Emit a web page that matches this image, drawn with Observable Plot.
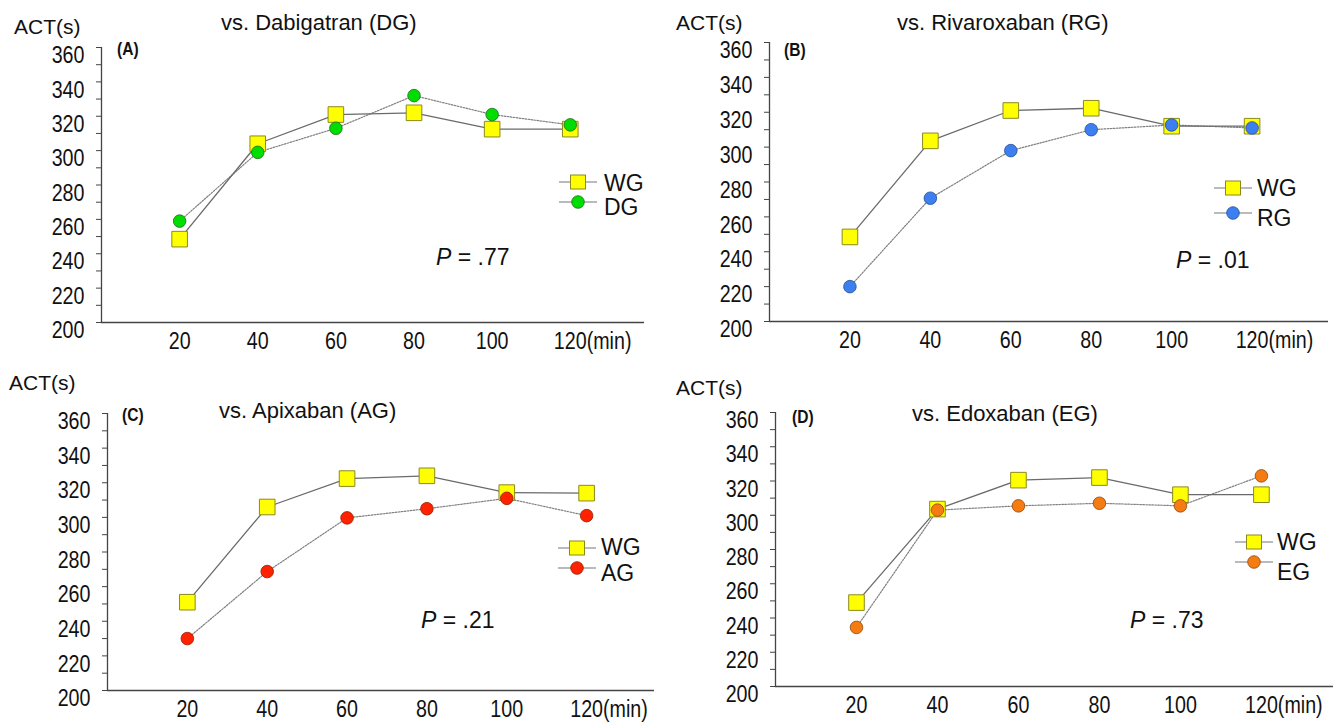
<!DOCTYPE html>
<html><head><meta charset="utf-8">
<script src="https://cdn.jsdelivr.net/npm/d3@7"></script>
<script src="https://cdn.jsdelivr.net/npm/@observablehq/plot@0.6"></script>
<style>
body{margin:0;background:#fff;}
#wrap{position:relative;width:1335px;height:723px;overflow:hidden;background:#fff;}
.panel{position:absolute;}
#overlay{position:absolute;left:0;top:0;pointer-events:none;}
</style></head><body><div id="wrap"></div>
<script>
// ---- data ----
const times = [20, 40, 60, 80, 100, 120];
const xTickLabels = ["20", "40", "60", "80", "100", "120"];
const yTicks = [200, 220, 240, 260, 280, 300, 320, 340, 360];
const wgA = [248.5, 304, 321, 322, 312.5, 312.5];
const dgA = [259, 299, 313, 332, 321, 315];
const wgB = [248.5, 303.6, 321, 322.3, 312, 312];
const rgB = [220, 270.7, 298, 310, 312.7, 311];
const wgC = [251, 306, 322.4, 324, 314.3, 314];
const agC = [230, 268.7, 299.7, 305, 311, 301];
const wgD = [249, 303.6, 320.5, 322, 312, 312];
const egD = [234.5, 303, 305.5, 307, 305.5, 323];
const panelLetters = ["(A)", "(B)", "(C)", "(D)"];
const titles = ["vs. Dabigatran (DG)", "vs. Rivaroxaban (RG)", "vs. Apixaban (AG)", "vs. Edoxaban (EG)"];
const groupNames = ["DG", "RG", "AG", "EG"];
const pValues = [".77", ".01", ".21", ".73"];
const compSeries = [dgA, rgB, agC, egD];
const wgSeries = [wgA, wgB, wgC, wgD];
const yLabel = "ACT(s)";
const xUnit = "(min)";

// ---- styles ----
const SANS = "'Liberation Sans',Arial,sans-serif";
const TICKFONT = 24, SQUEEZE = 0.82;
const compFill = ["#00dd00", "#3d7ff0", "#ff2200", "#f47c12"];
const compStroke = ["#1f6b1f", "#24508f", "#8f1e00", "#94480a"];
const wgFill = "#ffff00", wgStroke = "#8a8a20";

// ---- layout ----
const layout = [
  {left: 0,   top: 0,   w: 667, h: 362, ml: 101, mr: 23, mt: 47, mb: 40, xmax: 139,
   act: [14, 26], title: [221, 22], letter: [117, 48], leg: [578, 182, 202, 604, 183, 207], p: [436, 257]},
  {left: 667, top: 0,   w: 668, h: 362, ml: 102, mr: 7,  mt: 42, mb: 41, xmax: 139,
   act: [676, 22], title: [897, 22], letter: [784, 49], leg: [1233, 188, 213, 1257, 188, 218], p: [1176, 260]},
  {left: 0,   top: 361, w: 667, h: 362, ml: 107, mr: 13, mt: 52, mb: 33, xmax: 137,
   act: [9, 382], title: [219, 410], letter: [122, 414], leg: [577, 548, 568, 601, 547, 573], p: [421, 620]},
  {left: 667, top: 361, w: 668, h: 362, ml: 108, mr: 2,  mt: 51, mb: 37, xmax: 137.8,
   act: [676, 387], title: [912, 413], letter: [792, 416], leg: [1254, 542, 562, 1277, 542, 572], p: [1130, 620]}
];

// horizontal squeeze of text glyphs around their anchor point
function squeeze(elements, factor) {
  elements.forEach(t => {
    const tr = t.getAttribute("transform") || "";
    t.setAttribute("transform", (tr + ` scale(${factor},1)`).trim());
  });
}

const wrap = document.getElementById("wrap");
const halfLabel = TICKFONT * 0.556 * 3 * SQUEEZE / 2;
const lastT = times[times.length - 1];

layout.forEach((L, i) => {
  const wg = times.map((t, j) => ({t, v: wgSeries[i][j]}));
  const cp = times.map((t, j) => ({t, v: compSeries[i][j]}));
  const chart = Plot.plot({
    width: L.w, height: L.h,
    marginLeft: L.ml, marginRight: L.mr, marginTop: L.mt, marginBottom: L.mb,
    x: {domain: [0, L.xmax]},
    y: {domain: [200, 360]},
    style: {background: "transparent", overflow: "visible", color: "#111"},
    marks: [
      Plot.ruleX([0], {y1: 200, y2: 360, stroke: "#444", strokeWidth: 1.3}),
      Plot.ruleY([200], {stroke: "#444", strokeWidth: 1.3}),
      Plot.axisY({ticks: d3.range(200, 361, 10), tickSize: 5, fill: "none", stroke: "#444", label: null}),
      Plot.axisY({ticks: yTicks, tickSize: 0, tickPadding: 17, dy: 8, fontSize: TICKFONT,
        fontFamily: SANS, fill: "#111", label: null}),
      Plot.axisX({ticks: times.slice(0, -1), tickSize: 0, tickPadding: 9, fontSize: TICKFONT, fontFamily: SANS,
        fill: "#111", label: null, tickFormat: d => xTickLabels[times.indexOf(d)]}),
      Plot.text([lastT], {x: d => d, y: () => 200, text: d => xTickLabels[times.indexOf(d)] + xUnit,
        textAnchor: "start", lineAnchor: "top", dx: -halfLabel, dy: 9, fontSize: TICKFONT,
        fontFamily: SANS, fill: "#111"}),
      Plot.line(cp, {x: "t", y: "v", stroke: "#808080", strokeWidth: 1.2, strokeDasharray: "1.6,1.4"}),
      Plot.line(wg, {x: "t", y: "v", stroke: "#6a6a6a", strokeWidth: 1.3}),
      Plot.dot(wg, {x: "t", y: "v", symbol: "square", r: 8.8, fill: wgFill, stroke: wgStroke, strokeWidth: 1}),
      Plot.dot(cp, {x: "t", y: "v", r: 6.3, fill: compFill[i], stroke: compStroke[i], strokeWidth: 0.8})
    ]
  });
  const div = document.createElement("div");
  div.className = "panel";
  div.style.left = L.left + "px";
  div.style.top = L.top + "px";
  div.appendChild(chart);
  wrap.appendChild(div);
  squeeze(chart.querySelectorAll("text"), SQUEEZE);
});

// ---- overlay: titles, legends, annotations ----
const ov = d3.select(wrap).append("svg").attr("id", "overlay")
  .attr("width", 1335).attr("height", 723);
layout.forEach((L, i) => {
  const g = ov.append("g").attr("fill", "#111").attr("font-family", SANS);
  g.append("text").attr("x", L.act[0]).attr("y", L.act[1]).attr("dominant-baseline", "central")
    .attr("font-size", 21).text(yLabel);
  g.append("text").attr("x", L.title[0]).attr("y", L.title[1]).attr("dominant-baseline", "central")
    .attr("font-size", 22).text(titles[i]);
  g.append("text").attr("transform", `translate(${L.letter[0]},${L.letter[1]}) scale(0.82,1)`)
    .attr("dominant-baseline", "central")
    .attr("font-size", 19).attr("font-weight", "bold").text(panelLetters[i]);
  const [cx, ys, yc, tx, tys, tyc] = L.leg;
  g.append("line").attr("x1", cx - 19).attr("x2", cx + 19).attr("y1", ys).attr("y2", ys)
    .attr("stroke", "#777").attr("stroke-width", 1.2);
  g.append("line").attr("x1", cx - 19).attr("x2", cx + 19).attr("y1", yc).attr("y2", yc)
    .attr("stroke", "#777").attr("stroke-width", 1.2);
  g.append("rect").attr("x", cx - 7.5).attr("y", ys - 7).attr("width", 15).attr("height", 14)
    .attr("fill", wgFill).attr("stroke", wgStroke);
  g.append("circle").attr("cx", cx).attr("cy", yc).attr("r", 6.3)
    .attr("fill", compFill[i]).attr("stroke", compStroke[i]).attr("stroke-width", 0.8);
  g.append("text").attr("x", tx).attr("y", tys).attr("dominant-baseline", "central")
    .attr("font-size", 23).text("WG");
  g.append("text").attr("x", tx).attr("y", tyc).attr("dominant-baseline", "central")
    .attr("font-size", 23).text(groupNames[i]);
  const pt = g.append("text").attr("x", L.p[0]).attr("y", L.p[1]).attr("dominant-baseline", "central")
    .attr("font-size", 23);
  pt.append("tspan").attr("font-style", "italic").text("P");
  pt.append("tspan").text(" = " + pValues[i]);
});
</script></body></html>
